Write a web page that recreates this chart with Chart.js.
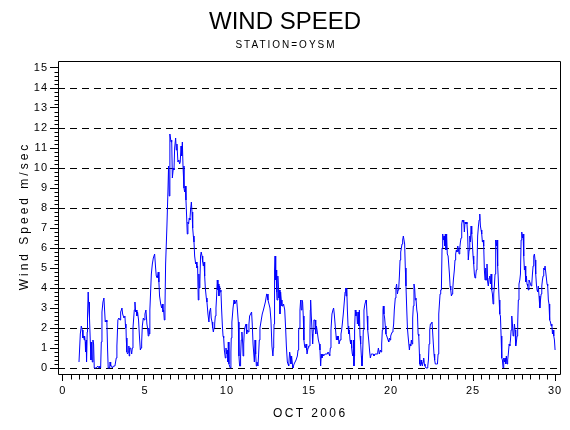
<!DOCTYPE html>
<html><head><meta charset="utf-8">
<script src="https://cdn.jsdelivr.net/npm/chart.js@4.4.1/dist/chart.umd.min.js"></script>
<style>html,body{margin:0;padding:0;background:#fff;}canvas{display:block;}</style>
</head><body>
<canvas id="c" width="570" height="430"></canvas>
<script>
const TITLE = 'WIND SPEED';
const SUBTITLE = 'STATION=OYSM';
const X_TITLE = 'OCT 2006';
const Y_TITLE = 'Wind Speed m/sec';
const xTickValues = [0, 5, 10, 15, 20, 25, 30];
const yTickValues = [0, 1, 2, 3, 4, 5, 6, 7, 8, 9, 10, 11, 12, 13, 14, 15];
const xMinorStep = 0.5;
const yMinorStep = 0.2;

const days1 = [0.98,1.06,1.12,1.18,1.22,1.26,1.30,1.32,1.36,1.38,
1.42,1.44,1.48,1.50,1.54,1.59,1.61,1.63,1.67,1.71,
1.75,1.79,1.83,1.87,1.91,2.03,2.13,2.20,2.24,2.30,
2.34,2.38,2.44,2.50,2.56,2.58,2.64,2.68,2.72,2.76,
2.85,2.87,2.91,2.97,3.01,3.09,3.17,3.25,3.29,3.35,
3.41,3.48,3.52,3.60,3.64,3.72,3.78,3.82,3.84,3.86,
3.90,3.94,3.98,4.02,4.04,4.07,4.13,4.19,4.23,4.27,
4.35,4.39,4.43,4.47,4.51,4.55,4.61,4.67,4.72,4.76,
4.80,4.84,4.90,4.96,5.00,5.06,5.12,5.16,5.20,5.24,
5.26,5.30,5.39,5.45,5.51,5.59,5.65,5.69,5.75,5.81,
5.85,5.89,5.96,6.02,6.06,6.10,6.14,6.18,6.22,6.26,
6.34,6.40,6.44,6.48,6.52,6.59,6.63,6.67,6.73,6.77,
6.81,6.87,6.91,6.95,7.01,7.07,7.11,7.15,7.20,7.24,
7.28,7.32,7.38,7.42,7.46,7.50,7.54,7.58,7.62,7.66,
7.70,7.74,7.78,7.83,7.87,7.91,7.95,7.99,8.03,8.09,
8.13,8.17,8.21,8.25,8.29,8.31,8.35,8.39,8.43,8.48,
8.52,8.56,8.60,8.64,8.68,8.74,8.78,8.84,8.90,8.94,
9.00,9.04,9.09,9.13,9.17,9.21,9.25,9.29,9.33,9.37,
9.41,9.45,9.47,9.51,9.55,9.59,9.63,9.67,9.72,9.76,
9.80,9.84,9.90,9.94,9.98,10.02,10.06,10.08,10.12,10.20,
10.24,10.26,10.30,10.37,10.43,10.47,10.53,10.59,10.63,10.69,
10.73];
const speed1 = [0.3,1.7,2.1,1.9,1.5,1.6,1.4,1.6,1.3,0.8,
1.4,0.3,1.8,2.6,3.8,2.8,3.3,2.5,1.3,0.4,
1.3,0.3,1.4,1.2,0.0,0.0,0.1,0.0,0.1,0.0,
1.3,2.8,3.3,3.5,2.6,2.3,2.4,2.3,1.0,0.0,
0.0,0.3,0.1,0.1,0.0,0.1,0.1,0.5,1.1,2.4,
2.5,2.4,2.8,3.0,2.7,2.5,2.6,2.0,2.2,1.5,
0.8,0.7,0.8,1.1,0.6,1.0,1.0,0.7,1.0,2.0,
2.9,3.3,2.8,2.9,2.6,2.8,2.4,1.5,0.9,1.0,
1.3,2.1,2.5,2.4,2.7,2.9,2.2,2.0,1.6,2.0,
1.7,2.9,4.7,5.2,5.5,5.7,5.0,4.6,4.5,4.8,
4.3,3.6,3.2,3.0,3.2,2.8,2.9,2.4,3.0,5.2,
7.1,8.8,10.1,8.6,11.7,11.3,11.4,9.5,10.0,9.9,
11.0,11.5,10.9,11.2,10.3,10.4,10.2,10.3,11.1,10.6,
11.3,10.1,9.0,8.8,9.1,8.4,7.6,6.7,7.3,7.2,
7.5,7.4,7.9,8.3,7.8,7.0,6.6,6.3,5.6,5.2,
5.3,5.0,5.1,3.4,4.7,4.0,4.3,5.6,5.8,5.6,
5.3,5.1,5.3,4.6,4.0,3.5,3.3,2.7,2.3,2.8,
3.0,2.5,2.3,2.0,1.8,2.0,2.2,2.6,3.0,3.6,
4.4,3.9,4.2,3.6,4.1,3.8,3.9,3.0,2.1,1.6,
1.5,0.9,0.5,1.0,0.7,0.9,0.3,1.3,0.2,0.0,
0.8,1.5,2.3,3.0,3.4,3.2,3.3,3.4,3.0,2.3,
0.6];

const days2 = [10.77,10.81,10.83,10.87,10.91,10.96,10.98,11.02,11.06,11.12,
11.16,11.20,11.26,11.30,11.34,11.38,11.44,11.50,11.54,11.59,
11.63,11.67,11.71,11.75,11.79,11.83,11.89,11.93,11.97,12.01,
12.05,12.11,12.15,12.22,12.28,12.34,12.42,12.44,12.50,12.56,
12.62,12.68,12.74,12.80,12.83,12.85,12.87,12.89,12.91,12.93,
12.97,12.99,13.03,13.05,13.09,13.11,13.15,13.17,13.21,13.23,
13.27,13.31,13.35,13.41,13.45,13.52,13.58,13.62,13.68,13.72,
13.76,13.82,13.86,13.90,13.94,14.00,14.02,14.09,14.15,14.21,
14.29,14.33,14.35,14.39,14.41,14.45,14.49,14.53,14.57,14.61,
14.65,14.69,14.73,14.77,14.82,14.86,14.88,14.94,14.98,15.02,
15.06,15.08,15.10,15.14,15.20,15.22,15.26,15.30,15.37,15.41,
15.45,15.49,15.57,15.63,15.67,15.71,15.75,15.79,15.85,15.89,
15.98,16.04,16.12,16.16,16.22,16.26,16.30,16.34,16.40,16.46,
16.50,16.54,16.59,16.67,16.71,16.75,16.79,16.83,16.89,16.95,
16.99,17.03,17.09,17.15,17.20,17.24,17.26,17.30,17.34,17.38,
17.42,17.46,17.50,17.54,17.58,17.60,17.64,17.68,17.72,17.74,
17.76,17.78,17.82,17.86,17.91,17.95,17.99,18.03,18.07,18.11,
18.15,18.19,18.23,18.27,18.31,18.35,18.41,18.48,18.50,18.54,
18.58,18.64,18.70,18.74,18.80,18.86,18.92,18.96,19.02,19.08,
19.15,19.19,19.23,19.29,19.35,19.39,19.43,19.47,19.51,19.53,
19.57,19.61,19.65,19.69,19.74,19.78,19.82,19.86,19.90,19.94,
19.98,20.02,20.08,20.12,20.16,20.20,20.26,20.30,20.34,20.39,
20.43];
const speed2 = [0.1,0.1,0.6,1.4,1.8,1.2,0.6,1.2,1.9,2.1,
2.2,1.7,1.9,1.8,2.2,2.6,2.7,2.8,2.2,1.2,
1.2,0.3,1.4,0.7,0.1,0.3,0.1,0.7,1.4,2.0,
2.2,2.5,2.7,2.9,3.1,3.3,3.7,3.7,3.4,3.2,
3.0,2.4,1.1,0.6,1.0,1.4,2.2,3.1,4.9,5.6,
4.4,4.9,3.8,3.4,3.9,4.6,3.9,3.5,3.9,2.7,
3.8,3.4,3.1,3.1,3.2,2.9,1.9,1.1,0.3,0.2,
0.1,0.8,0.6,0.2,0.6,0.1,0.0,0.2,0.3,0.4,
0.6,0.9,1.3,1.9,2.0,2.9,3.4,2.9,3.4,3.3,
2.6,1.4,1.1,1.0,1.2,0.9,0.7,1.0,1.1,1.1,
1.9,2.9,3.4,2.6,1.7,1.2,1.9,2.4,2.4,1.7,
2.1,1.9,1.4,1.2,0.9,0.1,0.7,0.5,0.7,0.6,
0.7,0.7,0.7,0.8,0.7,0.6,1.0,1.9,2.7,2.9,
3.0,2.7,2.2,1.4,1.6,1.4,1.6,1.2,1.4,1.7,
1.9,2.2,2.7,3.3,3.8,4.0,3.6,4.0,2.9,2.1,
1.7,1.9,1.4,1.2,1.4,1.0,0.7,0.6,1.4,0.1,
0.6,1.9,2.9,2.6,2.8,2.2,2.8,2.1,2.9,1.6,
1.2,0.6,0.1,0.7,1.9,2.9,3.2,3.4,3.3,2.6,
1.9,1.4,0.8,0.5,0.7,0.7,0.7,0.6,0.7,0.7,
0.7,0.8,1.0,0.7,0.9,0.8,1.2,1.9,2.9,3.1,
2.7,2.5,2.1,1.7,1.6,1.5,1.4,1.3,1.5,1.4,
1.6,1.7,1.8,1.9,2.2,2.9,3.5,4.0,4.2,3.7,
3.9];

const days3 = [20.47,20.51,20.55,20.59,20.63,20.67,20.71,20.75,20.79,20.83,
20.87,20.91,20.96,21.00,21.04,21.08,21.12,21.16,21.20,21.24,
21.28,21.32,21.36,21.40,21.44,21.48,21.52,21.57,21.61,21.65,
21.69,21.73,21.75,21.79,21.83,21.87,21.91,21.95,21.99,22.03,
22.07,22.13,22.20,22.24,22.28,22.32,22.36,22.40,22.44,22.50,
22.54,22.58,22.62,22.66,22.70,22.74,22.78,22.83,22.87,22.91,
22.95,22.99,23.03,23.07,23.11,23.15,23.19,23.23,23.27,23.31,
23.35,23.39,23.43,23.48,23.52,23.56,23.60,23.64,23.68,23.72,
23.76,23.80,23.86,23.90,23.94,23.98,24.02,24.07,24.11,24.15,
24.19,24.23,24.27,24.31,24.35,24.39,24.43,24.47,24.51,24.55,
24.59,24.63,24.67,24.71,24.76,24.80,24.84,24.88,24.92,24.96,
25.00,25.04,25.08,25.12,25.16,25.20,25.24,25.28,25.33,25.37,
25.41,25.45,25.49,25.53,25.57,25.61,25.65,25.69,25.73,25.77,
25.81,25.85,25.89,25.93,25.98,26.02,26.06,26.10,26.14,26.18,
26.22,26.26,26.30,26.34,26.38,26.42,26.46,26.50,26.54,26.59,
26.63,26.67,26.71,26.75,26.79,26.83,26.87,26.91,26.95,26.99,
27.03,27.07,27.11,27.15,27.20,27.24,27.28,27.32,27.36,27.40,
27.44,27.48,27.52,27.56,27.60,27.64,27.68,27.72,27.76,27.80,
27.85,27.89,27.93,27.97,28.01,28.05,28.09,28.13,28.17,28.21,
28.25,28.29,28.33,28.37,28.41,28.46,28.50,28.54,28.58,28.62,
28.66,28.70,28.74,28.78,28.82,28.86,28.90,28.94,28.98,29.02,
29.07,29.11,29.15,29.19,29.23,29.27,29.31,29.35,29.39,29.43,
29.47,29.51,29.55,29.59,29.63,29.67,29.72,29.76,29.80,29.84,
29.88,29.92,29.96,30.00];
const speed3 = [4.0,4.6,5.4,5.8,6.0,6.2,6.4,6.6,6.6,6.2,
5.0,4.1,2.9,2.0,1.6,1.6,0.9,1.2,1.1,1.4,
1.2,2.5,3.1,4.2,4.0,3.4,3.5,2.9,2.7,1.7,
1.6,0.7,0.2,0.1,0.4,0.2,0.1,0.3,0.5,0.2,
0.1,0.0,0.0,0.1,0.4,1.2,1.9,2.2,2.2,2.3,
2.3,1.2,0.7,0.4,0.2,0.2,0.2,0.2,0.7,2.7,
3.2,3.7,3.9,3.9,6.0,6.7,6.4,6.6,6.1,6.7,
5.9,6.7,5.7,5.6,5.6,4.7,4.1,3.9,3.6,3.7,
3.9,4.4,4.9,5.4,5.7,5.9,5.8,6.1,5.9,5.7,
6.0,6.3,6.5,7.2,7.4,7.3,7.4,6.8,7.3,7.2,
7.3,7.2,6.7,5.4,5.9,6.6,6.3,7.1,6.7,6.2,
5.6,5.2,4.7,4.5,4.6,4.9,5.1,6.6,7.1,7.4,
7.7,7.1,6.9,6.7,6.3,6.4,6.1,4.9,4.4,5.0,
4.4,5.2,4.3,4.1,4.5,4.6,4.2,4.7,3.9,3.7,
3.2,3.7,4.1,4.7,6.4,6.1,6.4,5.1,4.4,3.4,
2.7,2.6,1.6,0.5,0.4,0.0,0.5,0.3,0.5,0.2,
0.6,0.2,0.4,0.7,1.2,1.1,1.4,1.9,2.6,2.2,
1.6,1.7,2.2,1.9,1.1,1.3,1.6,2.2,3.4,4.2,
4.4,4.7,6.4,6.8,6.5,6.7,5.6,4.9,5.1,4.3,
4.6,4.2,4.1,3.9,4.4,4.3,4.2,4.1,4.2,4.7,
5.1,5.6,5.7,5.4,4.7,4.2,3.9,3.8,4.1,3.6,
3.0,3.4,3.7,4.1,4.4,4.6,5.0,4.9,5.1,5.1,
4.5,4.2,4.1,3.4,3.2,2.4,2.3,2.1,2.2,1.7,
1.9,1.6,1.4,0.9];

const days = days1.concat(days2, days3);
const speed = speed1.concat(speed2, speed3);
const points = days.map((d, i) => ({ x: d, y: speed[i] }));

function spacedText(ctx, text, cx, baseline, font, spacing) {
  ctx.font = font;
  ctx.letterSpacing = spacing + 'px';
  ctx.textAlign = 'left';
  ctx.textBaseline = 'alphabetic';
  const w = ctx.measureText(text).width - spacing;
  ctx.fillText(text, cx - w / 2, baseline);
}

const decor = {
  id: 'decor',
  beforeDraw(chart) {
    chart.ctx.letterSpacing = '1px';
  },
  afterDraw(chart) {
    const { ctx, chartArea: a, scales } = chart;
    const xs = scales.x, ys = scales.y;
    ctx.save();
    ctx.strokeStyle = '#000';
    ctx.lineWidth = 1;
    ctx.setLineDash([]);
    const L = Math.round(a.left) + 0.5, T = Math.round(a.top) + 0.5;
    const R = Math.round(a.right) + 0.5, B = Math.round(a.bottom) + 0.5;
    ctx.beginPath();
    ctx.moveTo(L, T); ctx.lineTo(R, T); ctx.lineTo(R, B); ctx.lineTo(L, B); ctx.closePath();
    ctx.stroke();
    ctx.beginPath();
    const yMinorCount = Math.round(15 / yMinorStep);
    for (let i = 0; i <= yMinorCount; i++) {
      if (i % 5 === 0) continue;
      const py = Math.round(ys.getPixelForValue(i * yMinorStep)) + 0.5;
      ctx.moveTo(L - 4, py); ctx.lineTo(L, py);
    }
    const xMinorCount = Math.round(30 / xMinorStep);
    for (let i = 0; i <= xMinorCount; i++) {
      if (i % 10 === 0) continue;
      const px = Math.round(xs.getPixelForValue(i * xMinorStep)) + 0.5;
      ctx.moveTo(px, B); ctx.lineTo(px, B + 5);
    }
    ctx.stroke();
    ctx.fillStyle = '#000';
    spacedText(ctx, TITLE, 285, 29, '24px "Liberation Sans"', 0);
    spacedText(ctx, SUBTITLE, 285, 48, '10px "Liberation Sans"', 2);
    spacedText(ctx, X_TITLE, (a.left + a.right) / 2, 417, '12px "Liberation Sans"', 2.4);
    ctx.save();
    ctx.translate(28, (a.top + a.bottom) / 2);
    ctx.rotate(-Math.PI / 2);
    spacedText(ctx, Y_TITLE, 0, 0, '12px "Liberation Sans"', 3);
    ctx.restore();
    ctx.restore();
  }
};

new Chart(document.getElementById('c'), {
  type: 'line',
  data: {
    datasets: [{
      data: points,
      borderColor: '#0000ff',
      borderWidth: 1,
      pointRadius: 0,
      tension: 0,
      fill: false
    }]
  },
  options: {
    responsive: false,
    animation: false,
    devicePixelRatio: 1,
    layout: { padding: { top: 61, right: 10, bottom: 0, left: 0 } },
    plugins: { legend: { display: false }, tooltip: { enabled: false }, title: { display: false } },
    scales: {
      x: {
        type: 'linear',
        min: -0.3,
        max: 30.3,
        afterBuildTicks: (s) => { s.ticks = xTickValues.map(v => ({ value: v })); },
        afterFit: (s) => { s.height = 56; },
        grid: { display: true, drawOnChartArea: false, drawTicks: true, tickLength: 7, tickColor: '#000', tickWidth: 1 },
        border: { display: false },
        ticks: { color: '#000', font: { family: 'Liberation Sans', size: 11 }, padding: 3, maxRotation: 0, autoSkip: false }
      },
      y: {
        type: 'linear',
        min: -0.3,
        max: 15.35,
        afterBuildTicks: (s) => { s.ticks = yTickValues.map(v => ({ value: v })); },
        afterFit: (s) => { s.width = 58; },
        grid: {
          display: true,
          drawOnChartArea: true,
          drawTicks: true,
          tickLength: 8,
          tickColor: '#000',
          tickWidth: 1,
          lineWidth: 1,
          color: (c) => (c.tick && c.tick.value % 2 === 0) ? '#000' : 'rgba(0,0,0,0)'
        },
        border: { display: false, dash: [7, 5] },
        ticks: { color: '#000', font: { family: 'Liberation Sans', size: 11 }, padding: 2, autoSkip: false }
      }
    }
  },
  plugins: [decor]
});
</script>
</body></html>
